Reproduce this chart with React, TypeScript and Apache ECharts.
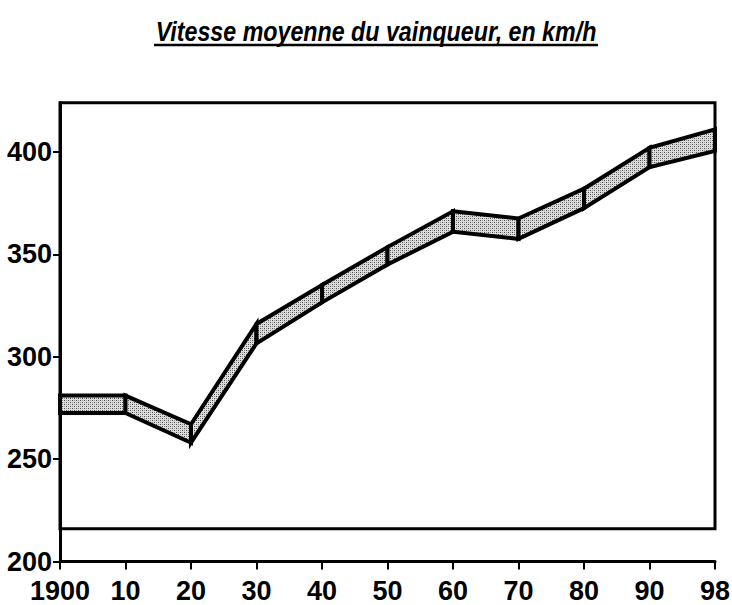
import React, { useEffect, useRef } from "react";
import * as echarts from "echarts";

const categories = ["1900", "10", "20", "30", "40", "50", "60", "70", "80", "90", "98"];
const upperValues = [281, 281, 267, 316, 335, 353.5, 371, 367.5, 382, 402, 411];
const lowerValues = [272.5, 272.5, 258, 306.5, 326.5, 345, 361, 357.5, 372.5, 392.5, 400.5];
const yTicks = { min: 200, max: 424, interval: 50 };
const frameBottom = 216;
const titleText = "Vitesse moyenne du vainqueur, en km/h";

const FONT = "'Liberation Sans', Arial, sans-serif";

function makePattern(): string {
  const c = document.createElement("canvas");
  c.width = 4;
  c.height = 4;
  const ctx = c.getContext("2d")!;
  ctx.fillStyle = "#dedede";
  ctx.fillRect(0, 0, 4, 4);
  ctx.fillStyle = "#4a4a4a";
  ctx.fillRect(0, 0, 1, 1);
  ctx.fillRect(2, 2, 1, 1);
  ctx.fillStyle = "#909090";
  ctx.fillRect(2, 0, 1, 1);
  ctx.fillRect(0, 2, 1, 1);
  return c.toDataURL();
}

export default function App() {
  const ref = useRef<HTMLDivElement>(null);
  useEffect(() => {
    if (!ref.current) return;
    const chart = echarts.init(ref.current, null, { renderer: "svg" });
    const pattern = makePattern();
    const segs = categories.slice(0, -1).map((_, i) => [
      i,
      lowerValues[i],
      upperValues[i],
      i + 1,
      lowerValues[i + 1],
      upperValues[i + 1],
    ]);
    chart.setOption({
      animation: false,
      backgroundColor: "#ffffff",
      grid: {
        left: 60,
        right: 17,
        top: 102.7,
        bottom: 43.5,
        containLabel: false,
        outerBoundsMode: "none",
      },
      graphic: [
        {
          type: "text",
          x: 376,
          y: 31,
          scaleX: 0.83,
          style: {
            text: titleText,
            font: `italic bold 28px ${FONT}`,
            fill: "#000",
            align: "center",
            verticalAlign: "middle",
          },
        },
        {
          type: "line",
          shape: { x1: 154, y1: 45, x2: 598, y2: 45 },
          style: { stroke: "#000", lineWidth: 2.5 },
        },
      ],
      xAxis: {
        type: "category",
        data: categories,
        boundaryGap: false,
        axisLine: { lineStyle: { color: "#000", width: 3 } },
        axisTick: { show: true, length: 8, inside: false, lineStyle: { color: "#000", width: 2 } },
        axisLabel: {
          color: "#000",
          fontSize: 27,
          fontWeight: "bold",
          fontFamily: FONT,
          margin: 16,
          interval: 0,
        },
        splitLine: { show: false },
      },
      yAxis: {
        type: "value",
        min: yTicks.min,
        max: yTicks.max,
        interval: yTicks.interval,
        axisLine: { show: true, lineStyle: { color: "#000", width: 3 } },
        axisTick: { show: true, length: 7, inside: false, lineStyle: { color: "#000", width: 2 } },
        axisLabel: {
          color: "#000",
          fontSize: 27,
          fontWeight: "bold",
          fontFamily: FONT,
          margin: 8,
          showMaxLabel: false,
        },
        splitLine: { show: false },
      },
      series: [
        {
          type: "custom",
          coordinateSystem: "cartesian2d",
          encode: { x: [0, 3], y: [1, 2, 4, 5] },
          data: segs,
          renderItem: (_params: any, api: any) => {
            const p1 = api.coord([api.value(0), api.value(1)]);
            const p2 = api.coord([api.value(0), api.value(2)]);
            const p3 = api.coord([api.value(3), api.value(5)]);
            const p4 = api.coord([api.value(3), api.value(4)]);
            return {
              type: "polygon",
              shape: { points: [p1, p2, p3, p4] },
              style: {
                fill: { image: pattern, repeat: "repeat" },
                stroke: "#000",
                lineWidth: 4,
                lineJoin: "miter",
              },
            };
          },
          markArea: {
            silent: true,
            itemStyle: { color: "rgba(0,0,0,0)", borderColor: "#000", borderWidth: 3 },
            data: [[{ xAxis: "1900", yAxis: frameBottom }, { xAxis: "98", yAxis: yTicks.max }]],
          },
        },
      ],
    });
    return () => chart.dispose();
  }, []);
  return (
    <div
      ref={ref}
      style={{ position: "fixed", left: 0, top: 0, width: 732, height: 605 }}
    />
  );
}
